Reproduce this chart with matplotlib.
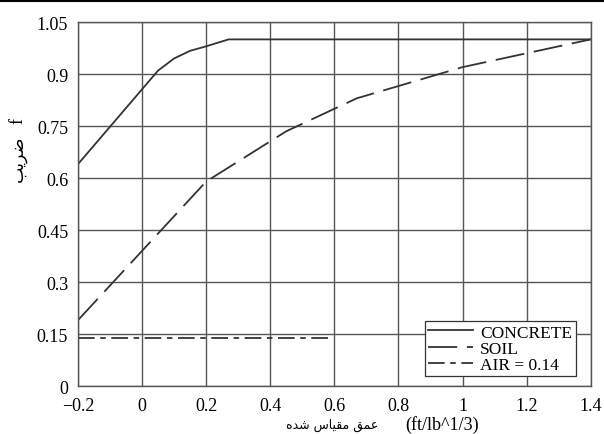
import matplotlib.pyplot as plt
from matplotlib.lines import Line2D

plt.rcParams['font.family'] = ['Liberation Serif', 'DejaVu Sans']
plt.rcParams['font.size'] = 12
plt.rcParams['lines.scale_dashes'] = False

# data
concrete_x = [-0.2, 0.05, 0.1, 0.15, 0.2, 0.27, 1.4]
concrete_y = [0.64, 0.91, 0.945, 0.967, 0.98, 1.0, 1.0]
soil_x = [-0.2, 0.2, 0.45, 0.67, 1.0, 1.4]
soil_y = [0.19, 0.59, 0.735, 0.83, 0.92, 1.0]
air_x = [-0.2, 0.58]
air_y = [0.14, 0.14]
xticks = [-0.2, 0, 0.2, 0.4, 0.6, 0.8, 1, 1.2, 1.4]
xtick_labels = ['\u22120.2', '0', '0.2', '0.4', '0.6', '0.8', '1', '1.2', '1.4']
yticks = [0, 0.15, 0.3, 0.45, 0.6, 0.75, 0.9, 1.05]
ytick_labels = ['0', '0.15', '0.3', '0.45', '0.6', '0.75', '0.9', '1.05']

# arabic labels in presentation forms (visual order)
ylab_ar = '\uFE90\uFEF3\uFEAE\uFEBF'
ylab_en = 'f'
xlab_ar = '\uFEE9\uFEAA\uFEB7 \uFEB1\uFE8E\uFEF4\uFED8\uFEE3 \uFED6\uFEE4\uFECB'
xlab_en = '(ft/lb^1/3)'

fig = plt.figure(figsize=(6.04, 4.35), dpi=100)
ax = fig.add_axes([0.129, 0.110, 0.849, 0.837])

ax.plot(concrete_x, concrete_y, color='#333333', lw=1.3, label='CONCRETE')
ax.plot(soil_x, soil_y, color='#333333', lw=1.3, dashes=(21, 7), label='SOIL')
ax.plot(air_x, air_y, color='#333333', lw=1.3, dashes=(12, 4, 4, 4), label='AIR = 0.14')

ax.set_xlim(-0.2, 1.4)
ax.set_ylim(0, 1.05)
ax.set_xticks(xticks)
ax.set_xticklabels(xtick_labels)
ax.set_yticks(yticks)
ax.set_yticklabels(ytick_labels)
ax.tick_params(length=0, labelsize=13)
ax.tick_params(axis='x', pad=8)
ax.tick_params(axis='y', pad=7)
ax.grid(True, color='#555555', lw=1.0)
for s in ax.spines.values():
    s.set_color('#555555')
    s.set_linewidth(1.0)

# axis labels, arabic part and latin part separately
ax.text(-0.117, 0.626, ylab_ar, transform=ax.transAxes, rotation=90,
        ha='center', va='center', fontsize=12.5, family='DejaVu Sans')
ax.text(-0.117, 0.73, ylab_en, transform=ax.transAxes, rotation=90,
        ha='center', va='center', fontsize=13)
ax.text(0.495, -0.104, xlab_ar, transform=ax.transAxes,
        ha='center', va='center', fontsize=9, family='DejaVu Sans')
ax.text(0.71, -0.104, xlab_en, transform=ax.transAxes,
        ha='center', va='center', fontsize=13)

leg = ax.legend(loc='lower right', frameon=True, fancybox=False, framealpha=1,
                edgecolor='#333333', handlelength=2.6, borderpad=0.2,
                labelspacing=0.0, handletextpad=0.4, fontsize=12.5,
                borderaxespad=0, bbox_to_anchor=(0.971, 0.027))
leg.get_frame().set_linewidth(0.9)

# page rule at the top
fig.add_artist(Line2D([0, 1], [0.995, 0.995], color='black', lw=1.5,
                      transform=fig.transFigure))

fig.savefig('out.png', dpi=100)
